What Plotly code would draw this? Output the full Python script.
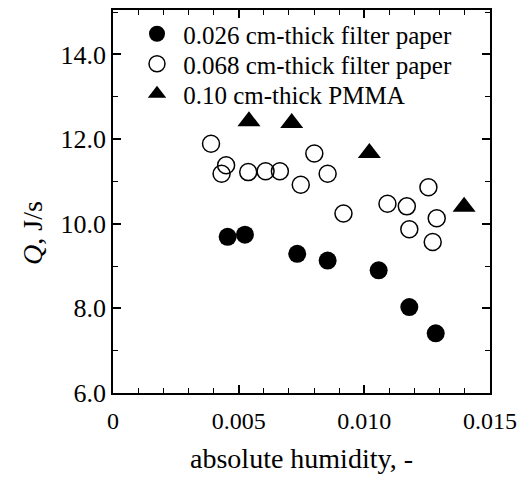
import plotly.graph_objects as go

# 0.026 cm-thick filter paper (filled circles)
fp026_x = [0.00456, 0.00525, 0.00733, 0.00854, 0.01057, 0.01179, 0.01284]
fp026_y = [9.69, 9.74, 9.29, 9.13, 8.90, 8.03, 7.41]

# 0.068 cm-thick filter paper (open circles)
fp068_x = [0.00390, 0.00432, 0.00450, 0.00538, 0.00607, 0.00664, 0.00747, 0.00801,
           0.00854, 0.00917, 0.01092, 0.01169, 0.01255, 0.01288, 0.01179, 0.01272]
fp068_y = [11.89, 11.18, 11.38, 11.22, 11.24, 11.24, 10.92, 11.66,
           11.18, 10.24, 10.47, 10.41, 10.86, 10.13, 9.87, 9.57]

# 0.10 cm-thick PMMA (filled triangles)
pmma_x = [0.00541, 0.00711, 0.01020, 0.01397]
pmma_y = [12.42, 12.38, 11.67, 10.40]

names = ["0.026 cm-thick filter paper", "0.068 cm-thick filter paper", "0.10 cm-thick PMMA"]
x_ticks = [0, 0.005, 0.010, 0.015]
x_ticklabels = ["0", "0.005", "0.010", "0.015"]
y_ticks = [6, 8, 10, 12, 14]
y_ticklabels = ["6.0", "8.0", "10.0", "12.0", "14.0"]
x_title = "absolute humidity, -"
y_title = "<i>Q</i>, J/s"

FONT = "Liberation Serif, Times New Roman, serif"
NB = "\u00a0"

fig = go.Figure()
fig.add_trace(go.Scatter(x=fp026_x, y=fp026_y, mode="markers", name=NB + names[0], legend="legend",
                         marker=dict(symbol="circle", size=18, color="black")))
fig.add_trace(go.Scatter(x=fp068_x, y=fp068_y, mode="markers", name=NB + names[1], legend="legend2",
                         marker=dict(symbol="circle-open", size=17, color="black",
                                     line=dict(width=1.5, color="black"))))
fig.add_trace(go.Scatter(x=pmma_x, y=pmma_y, mode="markers", name=NB + names[2], legend="legend3",
                         marker=dict(symbol="triangle-up", size=20, color="black")))

axis_common = dict(showgrid=False, zeroline=False, showline=True, linecolor="black",
                   linewidth=1.5, mirror="allticks", ticks="inside", tickcolor="black",
                   tickwidth=1.5, ticklen=8, automargin=False, ticklabeloverflow="allow")

fig.update_xaxes(range=[0, 0.015], tickvals=x_ticks, ticktext=x_ticklabels,
                 minor=dict(dtick=0.001, ticks="inside", ticklen=5, tickcolor="black", tickwidth=1.2),
                 ticklabelstandoff=5,
                 tickfont=dict(family=FONT, size=24, color="black"),
                 title=dict(text=x_title, font=dict(family=FONT, size=28, color="black"),
                            standoff=16),
                 **axis_common)
fig.update_yaxes(range=[6, 15.05], tickvals=y_ticks, ticktext=y_ticklabels,
                 minor=dict(dtick=1, ticks="inside", ticklen=5, tickcolor="black", tickwidth=1.2),
                 tickfont=dict(family=FONT, size=26, color="black"),
                 **axis_common)

fig.add_annotation(text=y_title, xref="paper", yref="paper", x=-81 / 377, y=(393 - 233) / 383,
                   xanchor="center", yanchor="middle", textangle=-90, showarrow=False,
                   font=dict(family=FONT, size=28, color="black"))

leg_common = dict(x=(137 - 113) / 377, xanchor="left", yanchor="middle",
                  bgcolor="rgba(0,0,0,0)", borderwidth=0,
                  font=dict(family=FONT, size=25, color="black"))

fig.update_layout(
    width=517, height=484,
    margin=dict(l=113, r=27, t=10, b=91, autoexpand=False),
    plot_bgcolor="white", paper_bgcolor="white",
    font=dict(family=FONT, color="black"),
    legend=dict(y=(393 - 34) / 383, **leg_common),
    legend2=dict(y=(393 - 64) / 383, **leg_common),
    legend3=dict(y=(393 - 94) / 383, **leg_common),
    showlegend=True,
)

fig.write_html("out.html",
               config={"displayModeBar": False},
               post_script="document.body.style.margin='0';document.body.style.overflow='hidden';")
